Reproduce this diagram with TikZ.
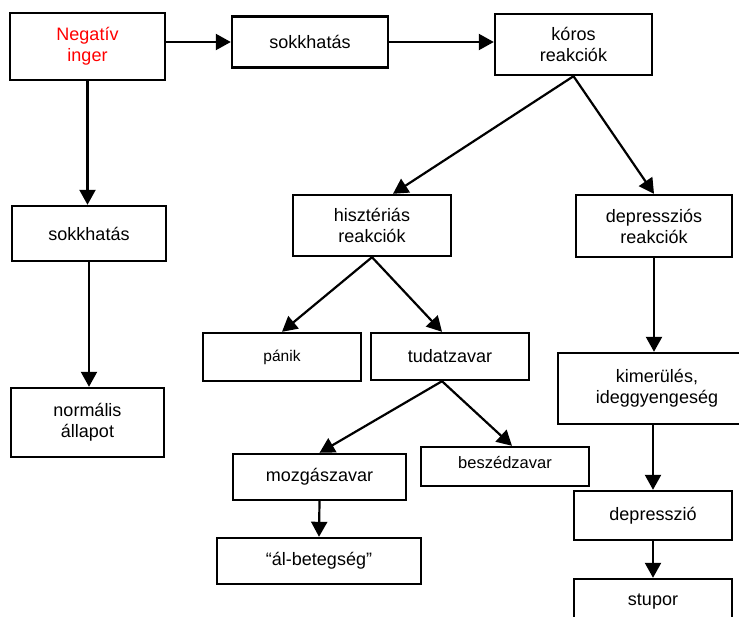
\documentclass[tikz,border=0pt]{standalone}
\usepackage{fontspec}
\setmainfont{Liberation Sans}
\usetikzlibrary{arrows.meta}
\begin{document}
\begin{tikzpicture}[x = 1pt, y = -1pt,
        box/.style = {draw, line width = 2.4pt, align = center, inner sep = 0pt,
            font = \fontsize{18}{21}\selectfont},
        arr/.style = {line width = 2.2pt, -{Triangle[length = 15pt, width = 16pt]}}]
    \useasboundingbox (0,0) rectangle (739,616);
    \begin{scope}[every node/.append style = {box}]
        \node[minimum width = 155pt, minimum height = 67pt, text = red] (inger) at (87.5,46.5) {Negatív\\inger};
        \node[minimum width = 156pt, minimum height = 51pt] (shock) at (310,42) {sokkhatás};
        \node[minimum width = 157pt, minimum height = 61pt] (koros) at (573.5,44.5) {kóros\\reakciók};
        \node[minimum width = 154pt, minimum height = 55pt] (shockb) at (89,233.5) {sokkhatás};
        \node[minimum width = 153pt, minimum height = 69pt] (normal) at (87.5,422.5) {normális\\állapot};
        \node[minimum width = 158pt, minimum height = 61pt] (hyst) at (372,225.5) {hisztériás\\reakciók};
        \node[minimum width = 156pt, minimum height = 62pt] (depr) at (654,226) {depressziós\\reakciók};
        \node[minimum width = 158pt, minimum height = 48pt, font = \fontsize{15.5}{18}\selectfont] (panik) at (282,357) {pánik};
        \node[minimum width = 158pt, minimum height = 47pt] (tudat) at (450,356.5) {tudatzavar};
        \node[minimum width = 198pt, minimum height = 71pt] (kimer) at (657,388.5) {kimerülés,\\ideggyengeség};
        \node[minimum width = 173pt, minimum height = 46pt] (mozgas) at (319.5,477) {mozgászavar};
        \node[minimum width = 168pt, minimum height = 39pt, font = \fontsize{16.5}{19}\selectfont,
            text depth = 9pt] (beszed) at (505,466.5) {beszédzavar};
        \node[minimum width = 204pt, minimum height = 46pt] (albeteg) at (319,561) {“ál-betegség”};
        \node[minimum width = 158pt, minimum height = 49pt] (depresszio) at (653,515.5) {depresszió};
        \node[minimum width = 158pt, minimum height = 46pt] (stupor) at (653,602) {stupor};
    \end{scope}
    \draw[arr] (inger.east |- shock.west) -- (shock.west);
    \draw[arr] (shock.east) -- (shock.east -| koros.west);
    \draw[arr] (inger.south) -- (inger.south |- shockb.north);
    \draw[arr] (shockb.south) -- (shockb.south |- normal.north);
    \draw[arr] (koros.south) -- ([xshift = 21pt]hyst.north);
    \draw[arr] (koros.south) -- (depr.north);
    \draw[arr] (hyst.south) -- (panik.north);
    \draw[arr] (hyst.south) -- ([xshift = -8pt]tudat.north);
    \draw[arr] (depr.south) -- (depr.south |- kimer.north);
    \draw[arr] ([xshift = -8pt]tudat.south) -- (mozgas.north);
    \draw[arr] ([xshift = -8pt]tudat.south) -- ([xshift = 7pt]beszed.north);
    \draw[arr] (mozgas.south) -- (albeteg.north);
    \draw[arr] (depresszio.north |- kimer.south) -- (depresszio.north);
    \draw[arr] (depresszio.south) -- (stupor.north);
\end{tikzpicture}
\end{document}
